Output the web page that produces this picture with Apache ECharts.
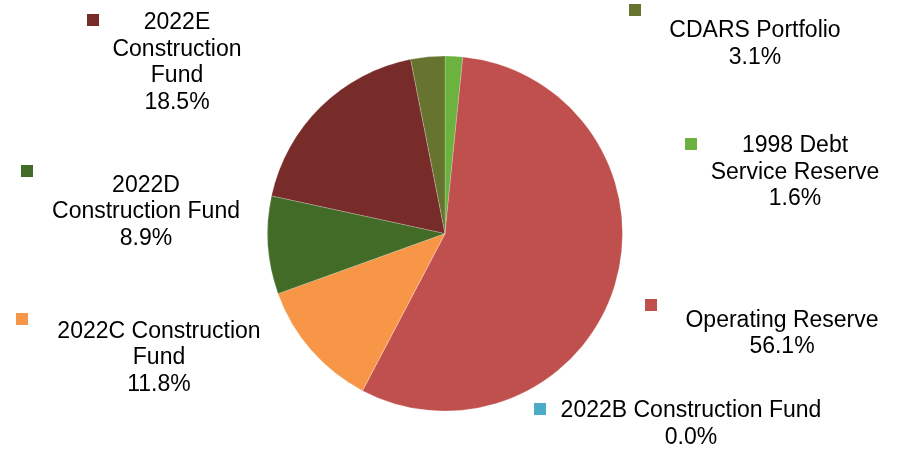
<!DOCTYPE html>
<html><head><meta charset="utf-8">
<script src="https://cdn.jsdelivr.net/npm/echarts@6/dist/echarts.min.js"></script>
<style>html,body{margin:0;padding:0;background:#fff}#c{width:901px;height:449px}</style>
</head><body><div id="c"></div>
<script>
// Data (clockwise from 12 o'clock)
const categories = ['1998 Debt Service Reserve','Operating Reserve','2022B Construction Fund','2022C Construction Fund','2022D Construction Fund','2022E Construction Fund','CDARS Portfolio'];
const labelText = ['1998 Debt\nService Reserve','Operating Reserve','2022B Construction Fund','2022C Construction\nFund','2022D\nConstruction Fund','2022E\nConstruction\nFund','CDARS Portfolio'];
const shares = [1.6, 56.1, 0.0, 11.8, 8.9, 18.5, 3.1];

// Styles / layout
const colors = ['#6BB23F','#C0504D','#4BACC6','#F79646','#426B27','#772C2A','#66742F'];
const labelPos = [[795,172.5],[782,333.5],[691,424],[159,357.7],[146,212],[177,62.75],[755,44.4]];
const keyPos = [[691,144],[651,305],[540,409],[22,319],[27,171],[93,20],[635,10]];

const FONT = '"Liberation Sans", Arial, sans-serif';
const chart = echarts.init(document.getElementById('c'), null, {renderer:'canvas'});

const mainData = categories.map((n,i)=>({
  name:n, value:shares[i], itemStyle:{color:colors[i]}
}));
const keyData = categories.map((n,i)=>({
  name:n, value:shares[i],
  itemStyle:{color:'rgba(0,0,0,0)'},
  label:{formatter:'{s|}', rich:{s:{width:12,height:12,backgroundColor:colors[i]}}}
}));

const common = {
  type:'pie', center:[445,233.5], radius:177.5, startAngle:90, clockwise:true,
  avoidLabelOverlap:false, stillShowZeroSum:true, minShowLabelAngle:0,
  labelLine:{show:false}, emphasis:{disabled:true}, animation:false
};

chart.setOption({
  backgroundColor:'#fff',
  series:[
    Object.assign({}, common, {
      data:mainData,
      itemStyle:{borderColor:'rgba(255,255,255,0.35)', borderWidth:0.6},
      label:{show:true, position:'outside', color:'#000', fontFamily:FONT, fontSize:23, lineHeight:26.5,
        formatter:p=>labelText[p.dataIndex]+'\n'+shares[p.dataIndex].toFixed(1)+'%'},
      labelLayout:p=>({x:labelPos[p.dataIndex][0], y:labelPos[p.dataIndex][1], align:'center', verticalAlign:'middle'})
    }),
    Object.assign({}, common, {
      silent:true, data:keyData,
      label:{show:true, position:'outside'},
      labelLayout:p=>({x:keyPos[p.dataIndex][0], y:keyPos[p.dataIndex][1], align:'center', verticalAlign:'middle'})
    })
  ]
});
</script></body></html>
